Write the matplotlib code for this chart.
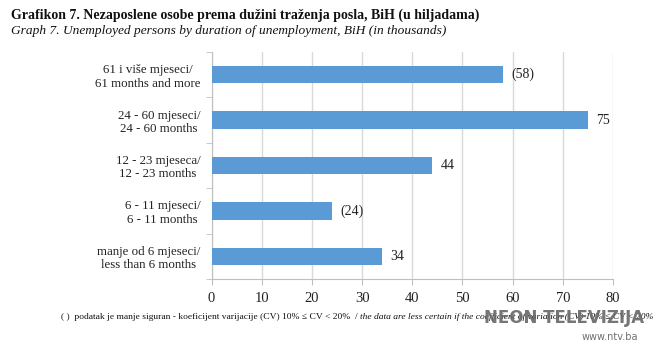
import matplotlib
matplotlib.use("Agg")
import matplotlib.pyplot as plt
import numpy as np

categories = ["61 i više mjeseci/\n61 months and more",
              "24 - 60 mjeseci/\n24 - 60 months",
              "12 - 23 mjeseca/\n12 - 23 months",
              "6 - 11 mjeseci/\n6 - 11 months",
              "manje od 6 mjeseci/\nless than 6 months"]
values = [58, 75, 44, 24, 34]
labels = ["(58)", "75", "44", "(24)", "34"]
xticks = [0, 10, 20, 30, 40, 50, 60, 70, 80]

plt.rcParams['font.family'] = ['Liberation Serif', 'DejaVu Serif']

fig = plt.figure(figsize=(6.72, 3.5), dpi=100)
ax = fig.add_axes([211.5/672, 1-279/350, (613-211.5)/672, (279-52)/350])

y = np.arange(len(categories))[::-1]
ax.barh(y, values, height=0.38, color="#5B9BD5", zorder=3)
for yi, v, lab in zip(y, values, labels):
    ax.text(v + 1.7, yi, lab, va="center", ha="left", fontsize=10, color="#222222")

ax.set_xlim(0, 80)
ax.set_ylim(-0.5, len(categories) - 0.5)
ax.set_xticks(xticks)
ax.set_xticklabels([str(t) for t in xticks], fontsize=10.5, color="#222222")
ax.set_yticks(y)
ax.set_yticklabels(categories, fontsize=9.3, color="#222222", ha="right",
                   multialignment="center", linespacing=1.15)
ax.tick_params(axis="y", length=0, pad=8)
ax.set_yticks(np.arange(-0.5, len(categories), 1), minor=True)
ax.tick_params(axis="y", which="minor", length=4, color="#BFBFBF")
ax.tick_params(axis="x", length=4, color="#BFBFBF", pad=5)
ax.xaxis.grid(True, color="#D9D9D9", linewidth=1, zorder=0)
for s in ["top", "right"]:
    ax.spines[s].set_visible(False)
for s in ["left", "bottom"]:
    ax.spines[s].set_color("#BFBFBF")

fig.text(11/672, 1-15/350, "Grafikon 7. Nezaposlene osobe prema dužini traženja posla, BiH (u hiljadama)",
         fontsize=10, fontweight="bold", va="center", ha="left", color="#111111")
fig.text(11/672, 1-31/350, "Graph 7. Unemployed persons by duration of unemployment, BiH (in thousands)",
         fontsize=9.6, fontstyle="italic", va="center", ha="left", color="#111111")

fig.text(61/672, 1-317/350, "( )  podatak je manje siguran - koeficijent varijacije (CV) 10% ≤ CV < 20%  /  ",
         fontsize=6.8, va="center", ha="left", color="#111111")
fig.text(360/672, 1-317/350, "the data are less certain if the coefficient of variation (CV) 10% ≤ CV < 20%",
         fontsize=6.8, fontstyle="italic", va="center", ha="left", color="#111111")

fig.text(564/672, 1-318/350, "NEON TELEVIZIJA", fontsize=12, fontweight="bold",
         family=["DejaVu Sans"], color="#6A6A6A", alpha=0.92, va="center", ha="center")
fig.text(638/672, 1-337/350, "www.ntv.ba", fontsize=7, family="DejaVu Sans",
         color="#707070", va="center", ha="right")

fig.savefig("out.png", dpi=100)
